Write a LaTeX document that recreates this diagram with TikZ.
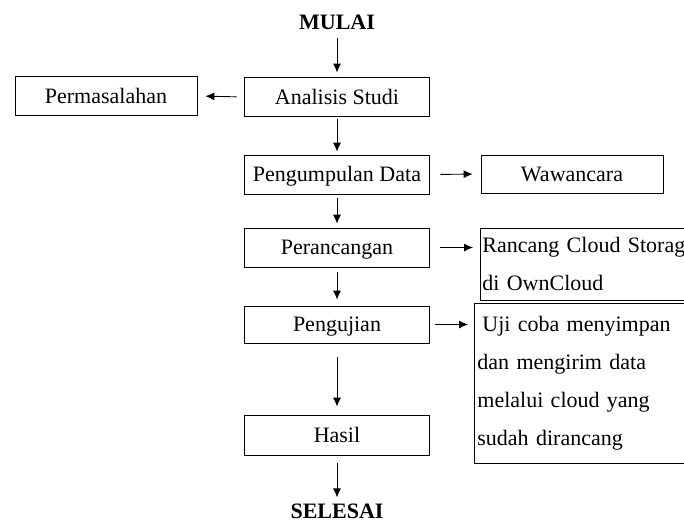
\documentclass[tikz,border=0pt]{standalone}
\usepackage{fontspec}
\setmainfont{Liberation Serif}
\usetikzlibrary{arrows.meta}
\begin{document}
\begin{tikzpicture}[x=1pt,y=-1pt,
  font=\fontsize{22}{38}\selectfont,
  box/.style={draw, line width=0.8pt, minimum width=185pt, minimum height=39pt, inner sep=0pt, text height=18pt, text depth=4pt},
  note/.style={draw, line width=0.8pt, align=left, anchor=north west, inner ysep=0pt},
  term/.style={inner sep=0pt, font=\fontsize{22}{26}\selectfont\bfseries},
  arr/.style={-{Latex[length=9pt,width=8pt]}, line width=0.9pt}]
\clip (0,0) rectangle (684,523);
% nodes
\node[term] (mulai) at (337,22) {MULAI};
\node[box] (analisis) at (337,97) {Analisis Studi};
\node[box, minimum width=182pt] (masalah) at (106,96) {Permasalahan};
\node[box] (kumpul) at (337,174.5) {Pengumpulan Data};
\node[box, minimum width=182pt, minimum height=38pt] (wawancara) at (572,174) {Wawancara};
\node[box] (rancangan) at (337,247.5) {Perancangan};
\node[note, minimum height=72pt, text width=216pt, inner xsep=2pt] (cloud) at (480,228) {Rancang Cloud Storage\\di OwnCloud};
\node[box, minimum height=37pt] (pengujian) at (337,324.5) {Pengujian};
\node[note, minimum height=160pt, text width=220pt, inner xsep=3pt] (uji) at (474,303) {\hspace*{5pt}Uji coba menyimpan\\dan mengirim data\\melalui cloud yang\\sudah dirancang};
\node[box, minimum height=40pt] (hasil) at (337,435) {Hasil};
\node[term] (selesai) at (337,511) {SELESAI};
% vertical arrows
\draw[arr, shorten <=8.5pt, shorten >=4.5pt] (mulai.south) -- (analisis.north);
\draw[arr, shorten <=2.5pt, shorten >=3pt] (analisis.south) -- (kumpul.north);
\draw[arr, shorten <=4pt, shorten >=4pt] (kumpul.south) -- (rancangan.north);
\draw[arr, shorten <=5pt, shorten >=6pt] (rancangan.south) -- (pengujian.north);
\draw[arr, shorten <=14pt, shorten >=8pt] (pengujian.south) -- (hasil.north);
\draw[arr, shorten <=8pt, shorten >=6pt] (hasil.south) -- (selesai.north);
% horizontal arrows
\draw[arr, shorten <=7.5pt, shorten >=8pt] (analisis.west) -- (masalah.east);
\draw[arr, shorten <=10.5pt, shorten >=8pt] (kumpul.east) -- (wawancara.west);
\draw[arr, shorten <=10.5pt, shorten >=7pt] (rancangan.east) -- (rancangan.east -| cloud.west);
\draw[arr, shorten <=5.5pt, shorten >=6pt] (pengujian.east) -- (pengujian.east -| uji.west);
\end{tikzpicture}
\end{document}
